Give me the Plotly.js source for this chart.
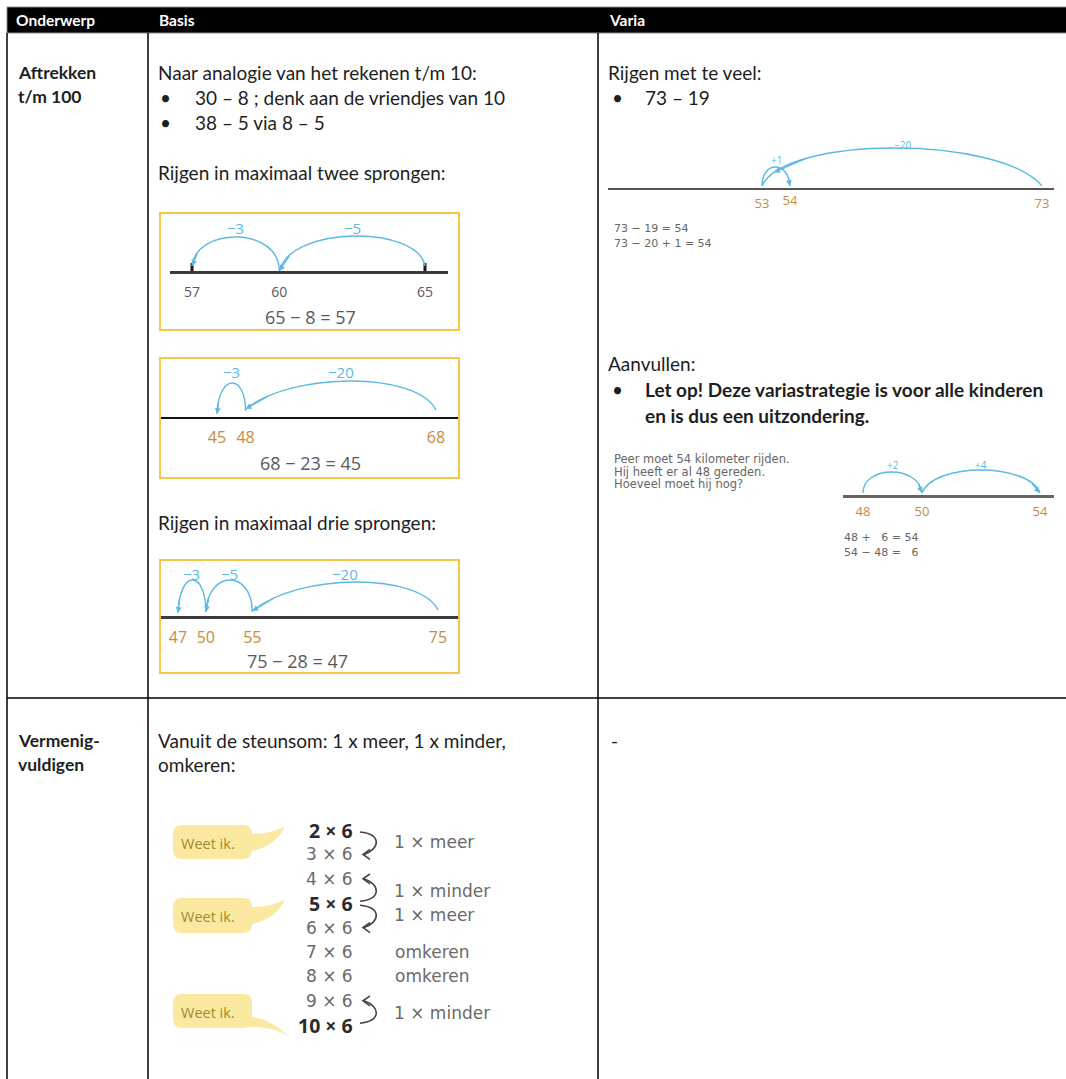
<!DOCTYPE html>
<html>
<head>
<meta charset="utf-8">
<script src="https://cdn.plot.ly/plotly-3.0.1.min.js"></script>
<style>
  html, body { margin: 0; padding: 0; background: #fff; }
  #sheet { width: 1066px; height: 1079px; }
</style>
</head>
<body>
<div id="sheet"></div>
<script>
const W = 1066, H = 1079;

// ---- content ----
const headers = ['Onderwerp', 'Basis', 'Varia'];
const topicRows = [['Aftrekken', 't/m 100'], ['Vermenig-', 'vuldigen']];

const basisIntro = 'Naar analogie van het rekenen t/m 10:';
const basisBullets = ['30 – 8 ; denk aan de vriendjes van 10', '38 – 5 via 8 – 5'];
const twoJumpsTitle = 'Rijgen in maximaal twee sprongen:';
const threeJumpsTitle = 'Rijgen in maximaal drie sprongen:';

// number lines: start value and the jumps made from it
const startA = 65, jumpsA = [-5, -3];
const startB = 68, jumpsB = [-20, -3];
const startC = 75, jumpsC = [-20, -5, -3];
const startD = 73, jumpsD = [-20, 1];
const startE = 48, jumpsE = [2, 4];

const variaIntro = 'Rijgen met te veel:';
const variaBullet = '73 – 19';
const aanvullenTitle = 'Aanvullen:';
const aanvullenBullet = ['Let op! Deze variastrategie is voor alle kinderen', 'en is dus een uitzondering.'];
const storyLines = ['Peer moet 54 kilometer rijden.', 'Hij heeft er al 48 gereden.', 'Hoeveel moet hij nog?'];

const multIntro = ['Vanuit de steunsom: 1 x meer, 1 x minder,', 'omkeren:'];
const factors = [2, 3, 4, 5, 6, 7, 8, 9, 10];
const multiplier = 6;
const knownFacts = [2, 5, 10];
const stepFrom = [2, 5, 5, 10];
const stepTo = [3, 4, 6, 9];
const stepText = ['1 × meer', '1 × minder', '1 × meer', '1 × minder'];
const reverseRows = [7, 8];
const reverseText = 'omkeren';
const knownLabel = 'Weet ik.';

// ---- styles ----
const BLUE = '#5cb9e2';
const ORANGE = '#c98a3e';
const GREY = '#5a5a5a';
const YELLOW = '#f6c64a';
const BUBBLE = '#fbe9a1';
const BODY = 19;
const SMALL = {size: 11, color: '#666', family: 'DejaVu Sans'};
const TABLE_TXT = {size: 17, color: '#6a6a6a', family: 'DejaVu Sans'};

const shapes = [];
const annotations = [];
const traces = [];
const layout = {
    width: W,
    height: H,
    margin: {l: 0, r: 0, t: 0, b: 0},
    paper_bgcolor: '#fff',
    plot_bgcolor: 'rgba(0,0,0,0)',
    showlegend: false,
    hovermode: false,
    font: {family: 'Lato', color: '#1e1e1e'},
    xaxis: {range: [0, W], visible: false, fixedrange: true},
    yaxis: {range: [H, 0], visible: false, fixedrange: true},
};
traces.push({x: [0], y: [0], mode: 'markers', marker: {opacity: 0}, hoverinfo: 'skip'});

function text(t, x, y, o) {
    o = o || {};
    annotations.push({
        text: t, x: x, y: y, xref: 'x', yref: 'y',
        xanchor: o.anchor || 'left', yanchor: 'middle', showarrow: false,
        font: {size: o.size || BODY, color: o.color || '#1e1e1e', family: o.family || 'Lato'},
    });
}
function line(x0, y0, x1, y1, color, width) {
    shapes.push({type: 'line', xref: 'x', yref: 'y', x0: x0, y0: y0, x1: x1, y1: y1,
        line: {color: color, width: width}});
}

// ---- table ----
shapes.push({type: 'rect', xref: 'x', yref: 'y', x0: 7, x1: W + 2, y0: 7, y1: 33,
    fillcolor: '#000', line: {color: '#8a8a8a', width: 1}});
line(7, 33, 7, H, '#000', 1.5);
line(148, 33, 148, H, '#000', 1.5);
line(598, 33, 598, H, '#000', 1.5);
line(7, 698, W, 698, '#000', 1.5);

[14, 157, 607].forEach((x, i) => text('<b>' + headers[i] + '</b>', x, 20, {size: 15.5, color: '#fff'}));
[72, 740].forEach((y, r) => {
    text('<b>' + topicRows[r][0] + '</b>', 16, y, {size: 17.5});
    text('<b>' + topicRows[r][1] + '</b>', 16, y + 24, {size: 17.5});
});

// ---- basis column ----
text(basisIntro, 156, 72);
basisBullets.forEach((b, i) => {
    text('•', 158, 97 + i * 25);
    text(b, 193, 97 + i * 25);
});
text(twoJumpsTitle, 156, 172);
text(threeJumpsTitle, 156, 522);
[[213, 330], [358, 478], [560, 673]].forEach(b => {
    shapes.push({type: 'rect', xref: 'x', yref: 'y', x0: 160, x1: 459, y0: b[0], y1: b[1],
        line: {color: YELLOW, width: 2}});
});

// ---- number lines ----
const numberLines = [
    {start: startA, jumps: jumpsA, left: 170, right: 448, y: 271,
     scales: [{vA: 57, pA: 192, vB: 65, pB: 425}],
     lineColor: '#3b3b3b', lineWidth: 2.5, tickColor: GREY, tickSize: 14, tickOff: 7, jumpSize: 15,
     endTicks: true, eq: {x: 310, y: 317},
     arcs: [{h: 35, lab: 43, ya: 5, yb: 0, s1: 0.05, s2: 0.08},
            {h: 34, lab: 43, ya: 0, yb: 5, s1: 0, s2: 0.05}]},
    {start: startB, jumps: jumpsB, left: 160, right: 459, y: 417,
     scales: [{vA: 45, pA: 217, vB: 68, pB: 436}],
     lineColor: '#111', lineWidth: 2, tickColor: ORANGE, tickSize: 16, tickOff: 5, jumpSize: 15,
     eq: {x: 310, y: 463},
     arcs: [{h: 36, lab: 45, ya: 7, yb: 8, s1: 0.1, s2: 0.25},
            {h: 34, lab: 45, ya: 6, yb: 3, s1: 0, s2: 0.05}]},
    {start: startC, jumps: jumpsC, left: 160, right: 459, y: 616,
     scales: [{vA: 47, pA: 178, vB: 75, pB: 438}],
     lineColor: '#3b3b3b', lineWidth: 3, tickColor: ORANGE, tickSize: 16, tickOff: 5, jumpSize: 15,
     eq: {x: 297, y: 661},
     arcs: [{h: 34, lab: 42, ya: 6, yb: 5, s1: 0.1, s2: 0.25},
            {h: 36, lab: 42, ya: 4, yb: 4, s1: 0, s2: 0.05},
            {h: 36, lab: 42, ya: 4, yb: 3, s1: 0, s2: 0.05}]},
    {start: startD, jumps: jumpsD, left: 608, right: 1054, y: 188,
     scales: [{vA: 53, pA: 762, vB: 73, pB: 1042},
              {vA: 53, pA: 762, vB: 54, pB: 790, left: 748, right: 806}],
     lineColor: '#555', lineWidth: 1.5, tickColor: ORANGE, tickSize: 13, tickOff: 3, jumpSize: 10,
     arcs: [{h: 40, lab: 43, ya: 2, yb: 2, s1: 0.15, s2: 0.08, arrowAt: 0.9},
            {h: 21, lab: 28, ya: 2, yb: 2, s1: 0, s2: 0.05, scale: 1}]},
    {start: startE, jumps: jumpsE, left: 843, right: 1054, y: 495,
     scales: [{vA: 48, pA: 863, vB: 54, pB: 1040}],
     lineColor: '#666', lineWidth: 2.5, tickColor: ORANGE, tickSize: 13, tickOff: 3, jumpSize: 10,
     arcs: [{h: 23, lab: 30, ya: 2, yb: 2, s1: 0, s2: 0.05},
            {h: 25, lab: 30, ya: 2, yb: 2, s1: 0.1, s2: 0.1}]},
];

function bez(p0, p1, p2, p3, t) {
    const u = 1 - t;
    return u * u * u * p0 + 3 * u * u * t * p1 + 3 * u * t * t * p2 + t * t * t * p3;
}

let axisId = 2;
numberLines.forEach(nl => {
    const pts = [nl.start];
    nl.jumps.forEach(j => pts.push(pts[pts.length - 1] + j));
    const ptScale = pts.map((p, i) => i === 0 ? 0 : (nl.arcs[i - 1].scale || 0));
    const yId = axisId;
    const xIds = nl.scales.map(() => axisId++);

    layout['yaxis' + yId] = {
        domain: [1 - nl.y / H, 1 - (nl.y - 60) / H], range: [0, 60],
        visible: false, fixedrange: true, anchor: 'x' + yId,
    };
    nl.scales.forEach((sc, k) => {
        const left = sc.left !== undefined ? sc.left : nl.left;
        const right = sc.right !== undefined ? sc.right : nl.right;
        const perPx = (sc.vB - sc.vA) / (sc.pB - sc.pA);
        const vals = pts.filter((p, i) => ptScale[i] === k);
        layout['xaxis' + xIds[k]] = {
            domain: [left / W, right / W],
            range: [sc.vA + (left - sc.pA) * perPx, sc.vA + (right - sc.pA) * perPx],
            anchor: 'y' + yId, fixedrange: true,
            showgrid: false, zeroline: false, ticks: '',
            showline: k === 0, linecolor: nl.lineColor, linewidth: nl.lineWidth,
            tickvals: vals, ticktext: vals.map(String),
            ticklabelstandoff: nl.tickOff,
            tickfont: {family: 'Open Sans', size: nl.tickSize, color: nl.tickColor},
        };
        traces.push({x: vals, y: vals.map(() => 0), xaxis: 'x' + xIds[k], yaxis: 'y' + yId,
            mode: 'markers', marker: {opacity: 0}, hoverinfo: 'skip'});
    });

    if (nl.endTicks) {
        const ends = [pts[0], pts[pts.length - 1]];
        traces.push({x: ends, y: [3, 3], xaxis: 'x' + xIds[0], yaxis: 'y' + yId, mode: 'markers',
            marker: {symbol: 'line-ns', size: 7, line: {width: 3, color: '#1a1a1a'}}, hoverinfo: 'skip'});
    }

    nl.jumps.forEach((j, i) => {
        const arc = nl.arcs[i];
        const xr = 'x' + xIds[arc.scale || 0], yr = 'y' + yId;
        const a = pts[i], b = pts[i + 1];
        const c1 = a + arc.s1 * (b - a), c2 = b - arc.s2 * (b - a);
        const ch = (arc.h - 0.125 * (arc.ya + arc.yb)) / 0.75;
        shapes.push({type: 'path', xref: xr, yref: yr,
            path: `M ${a},${arc.ya} C ${c1},${ch} ${c2},${ch} ${b},${arc.yb}`,
            line: {color: BLUE, width: 1.4}});
        const tHead = arc.arrowAt || 1, tTail = tHead - 0.14;
        annotations.push({x: bez(a, c1, c2, b, tHead), y: bez(arc.ya, ch, ch, arc.yb, tHead),
            xref: xr, yref: yr, axref: xr, ayref: yr,
            ax: bez(a, c1, c2, b, tTail), ay: bez(arc.ya, ch, ch, arc.yb, tTail),
            text: '', showarrow: true, arrowhead: 2, arrowsize: 0.9, arrowwidth: 1.3, arrowcolor: BLUE,
            standoff: 0});
        annotations.push({x: (a + b) / 2, y: arc.lab, xref: xr, yref: yr, showarrow: false,
            text: (j > 0 ? '+' : '−') + Math.abs(j),
            font: {family: 'Open Sans', size: nl.jumpSize, color: BLUE}});
    });

    if (nl.eq) {
        const total = pts[pts.length - 1] - nl.start;
        text(`${nl.start} − ${Math.abs(total)} = ${pts[pts.length - 1]}`, nl.eq.x, nl.eq.y,
            {anchor: 'center', size: 18, color: GREY, family: 'Open Sans'});
    }
});

// ---- varia column ----
text(variaIntro, 606, 72);
text('•', 610, 97);
text(variaBullet, 643, 97);

const endD = startD + jumpsD.reduce((s, v) => s + v, 0);
text(`${startD} − ${startD - endD} = ${endD}`, 612, 228, SMALL);
text(`${startD} − ${-jumpsD[0]} + ${jumpsD[1]} = ${endD}`, 612, 243, SMALL);

text(aanvullenTitle, 606, 363);
text('•', 610, 389);
aanvullenBullet.forEach((t, i) => text('<b>' + t + '</b>', 643, 389 + i * 26, {size: 19}));
storyLines.forEach((t, i) => text(t, 612, 459 + i * 12.5, {size: 11.5, color: '#666', family: 'DejaVu Sans'}));

const endE = startE + jumpsE.reduce((s, v) => s + v, 0);
const diffE = endE - startE;
text(`${startE} + \u2007${diffE} = ${endE}`, 842, 537, SMALL);
text(`${endE} − ${startE} = \u2007${diffE}`, 842, 552, SMALL);

// ---- vermenigvuldigen row ----
text(multIntro[0], 156, 740);
text(multIntro[1], 156, 764);
text('-', 609, 740);

const rowY = f => 830 + (f - factors[0]) * 24.4;
factors.forEach(f => {
    if (knownFacts.includes(f)) {
        text(`<b>${f} × ${multiplier}</b>`, 355, rowY(f),
            {anchor: 'right', size: 19.5, color: '#2b2b2b', family: 'Open Sans'});
    } else {
        text(`${f} × ${multiplier}`, 355, rowY(f), Object.assign({anchor: 'right'}, TABLE_TXT));
    }
});
stepFrom.forEach((f, i) => {
    const y0 = rowY(f), y1 = rowY(stepTo[i]);
    const d = Math.sign(y1 - y0);
    text(stepText[i], 392, (y0 + y1) / 2, TABLE_TXT);
    shapes.push({type: 'path', xref: 'x', yref: 'y',
        path: `M 360,${y0 + d * 2} C 381,${y0 + d * 4} 381,${y1 - d * 6} 364,${y1}`,
        line: {color: '#444', width: 1.6}});
    shapes.push({type: 'path', xref: 'x', yref: 'y',
        path: `M 370,${y1 - 5} L 363,${y1} L 370,${y1 + 5}`,
        line: {color: '#444', width: 1.6}});
});
reverseRows.forEach(f => text(reverseText, 393, rowY(f), TABLE_TXT));

function bubble(y0, y1, down) {
    const x0 = 173, x1 = 252, r = 9;
    shapes.push({type: 'path', xref: 'x', yref: 'y', fillcolor: BUBBLE, line: {width: 0},
        path: `M ${x0 + r},${y0} L ${x1 - r},${y0} Q ${x1},${y0} ${x1},${y0 + r} L ${x1},${y1 - r} Q ${x1},${y1} ${x1 - r},${y1} ` +
              `L ${x0 + r},${y1} Q ${x0},${y1} ${x0},${y1 - r} L ${x0},${y0 + r} Q ${x0},${y0} ${x0 + r},${y0} Z`});
    const tail = down
        ? `M 246,${y1 - 12} Q 272,${y1 - 10} 290,${y1 + 10} Q 276,${y1 - 2} 246,${y1 - 1} Z`
        : `M 246,${y0 + 9} Q 271,${y0 + 10} 285,${y0 + 1} Q 276,${y0 + 23} 246,${y0 + 27} Z`;
    shapes.push({type: 'path', xref: 'x', yref: 'y', fillcolor: BUBBLE, line: {width: 0}, path: tail});
    text(knownLabel, 208, (y0 + y1) / 2 + 1, {anchor: 'center', size: 14.5, color: '#a38a2c', family: 'Open Sans'});
}
bubble(825, 859, false);
bubble(898, 933, false);
bubble(994, 1028, true);

layout.shapes = shapes;
layout.annotations = annotations;

Plotly.newPlot('sheet', traces, layout, {staticPlot: true, displayModeBar: false});
</script>
</body>
</html>
